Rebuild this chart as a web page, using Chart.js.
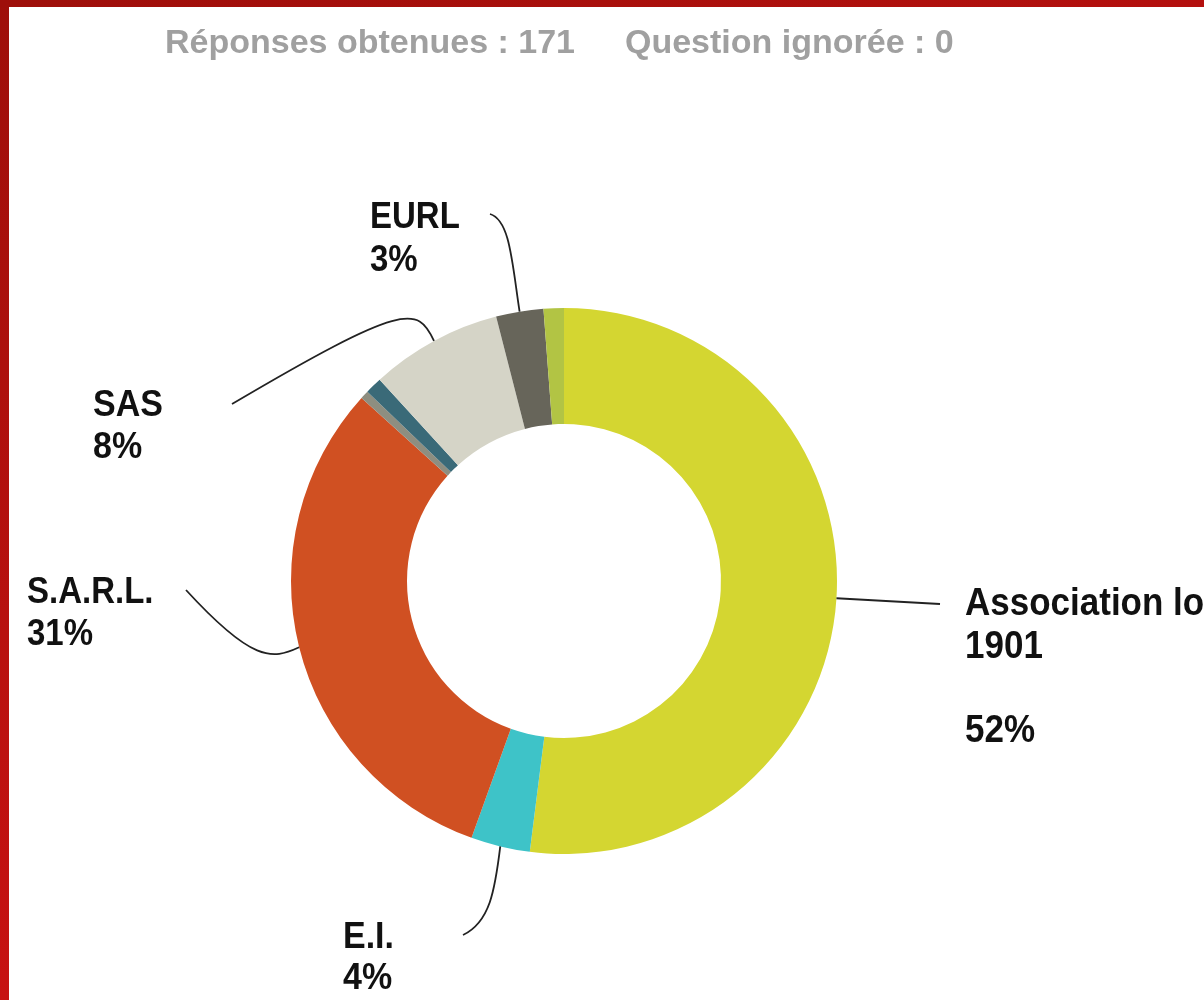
<!DOCTYPE html>
<html lang="fr">
<head>
<meta charset="utf-8">
<title>Forme juridique</title>
<script src="https://cdn.jsdelivr.net/npm/chart.js@4.4.1/dist/chart.umd.min.js"></script>
<style>
    html, body { margin: 0; padding: 0; background: #fff; }
    #page { position: relative; width: 1204px; height: 1000px; overflow: hidden; background: #fff; }
    #bar-left { position: absolute; left: 0; top: 0; width: 9px; height: 1000px;
        background: linear-gradient(to bottom, #9e0f0a, #c71212); }
    #bar-top { position: absolute; left: 0; top: 0; width: 1204px; height: 7px;
        background: linear-gradient(to right, #9e0f0a, #b4100e); }
    #wrap { position: absolute; left: 0; top: 0; width: 1204px; height: 1000px; }
</style>
</head>
<body>
<div id="page">
    <div id="wrap"><canvas id="pieChart"></canvas></div>
    <div id="bar-left"></div>
    <div id="bar-top"></div>
</div>
<script>
// ------------------------------------------------------
// Data (percent of 171 answers)
// ------------------------------------------------------
const categories = ['Association loi 1901', 'E.I.', 'S.A.R.L.', 'SA', 'SCOP', 'SAS', 'EURL', 'Autre'];
const shares = [52.0, 3.5, 31.2, 0.5, 1.0, 7.8, 2.8, 1.2];
const shownPct = ['52%', '4%', '31%', '', '', '8%', '3%', ''];
const sliceColors = ['#d4d631', '#3ec3c8', '#d05022', '#8e8e80', '#3a6a78', '#d5d4c7', '#67655a', '#b2c444'];

const titleLeft = 'Réponses obtenues : 171';
const titleRight = 'Question ignorée : 0';

// label placement + leader curves (c1, c2, end) for the labelled slices
const LABELS = [
    { i: 0, x: 965, size: 35, lines: [['Association loi', 615], ['1901', 658], ['52%', 742]], end: [940, 604], straight: true },
    { i: 1, x: 343, size: 34, lines: [['E.I.', 948], ['4%', 989]], c1: [495, 890], c2: [490, 922], end: [463, 935] },
    { i: 2, x: 27,  size: 33, lines: [['S.A.R.L.', 603], ['31%', 645]], c1: [272, 660], c2: [252, 662], end: [186, 590] },
    { i: 5, x: 93,  size: 34, lines: [['SAS', 416], ['8%', 458]], c1: [418, 306], c2: [405, 302], end: [232, 404] },
    { i: 6, x: 370, size: 33, lines: [['EURL', 228], ['3%', 271]], c1: [512, 262], c2: [510, 220], end: [490, 214] }
];

const labelPlugin = {
    id: 'labelPlugin',
    afterDatasetsDraw(chart) {
        const ctx = chart.ctx;
        const meta = chart.getDatasetMeta(0);

        // title
        ctx.save();
        ctx.font = 'bold 34px "Liberation Sans", Arial, sans-serif';
        ctx.fillStyle = '#a0a0a0';
        ctx.fillText(titleLeft, 165, 53);
        ctx.fillText(titleRight, 625, 53);
        ctx.restore();

        LABELS.forEach(l => {
            const arc = meta.data[l.i];
            const mid = (arc.startAngle + arc.endAngle) / 2;
            const ax = arc.x + Math.cos(mid) * arc.outerRadius;
            const ay = arc.y + Math.sin(mid) * arc.outerRadius;

            // leader line
            ctx.save();
            ctx.strokeStyle = '#222';
            ctx.lineWidth = l.straight ? 2 : 1.8;
            ctx.beginPath();
            ctx.moveTo(ax, ay);
            if (l.straight) ctx.lineTo(l.end[0], l.end[1]);
            else ctx.bezierCurveTo(l.c1[0], l.c1[1], l.c2[0], l.c2[1], l.end[0], l.end[1]);
            ctx.stroke();
            ctx.restore();

            // text
            ctx.save();
            ctx.font = `bold ${l.size}px "Liberation Sans", Arial, sans-serif`;
            ctx.fillStyle = '#111';
            l.lines.forEach(([txt, y]) => {
                ctx.save();
                ctx.translate(l.x, y);
                ctx.scale(1, 1.1);
                ctx.fillText(txt, 0, 0);
                ctx.restore();
            });
            ctx.restore();
        });
    }
};

new Chart(document.getElementById('pieChart'), {
    type: 'doughnut',
    data: {
        labels: categories,
        datasets: [{
            data: shares,
            backgroundColor: sliceColors,
            borderWidth: 0
        }]
    },
    options: {
        responsive: true,
        maintainAspectRatio: false,
        animation: false,
        cutout: 157,
        layout: { padding: { left: 291, right: 367, top: 308, bottom: 146 } },
        plugins: { legend: { display: false }, tooltip: { enabled: false }, title: { display: false } }
    },
    plugins: [labelPlugin]
});
</script>
</body>
</html>
